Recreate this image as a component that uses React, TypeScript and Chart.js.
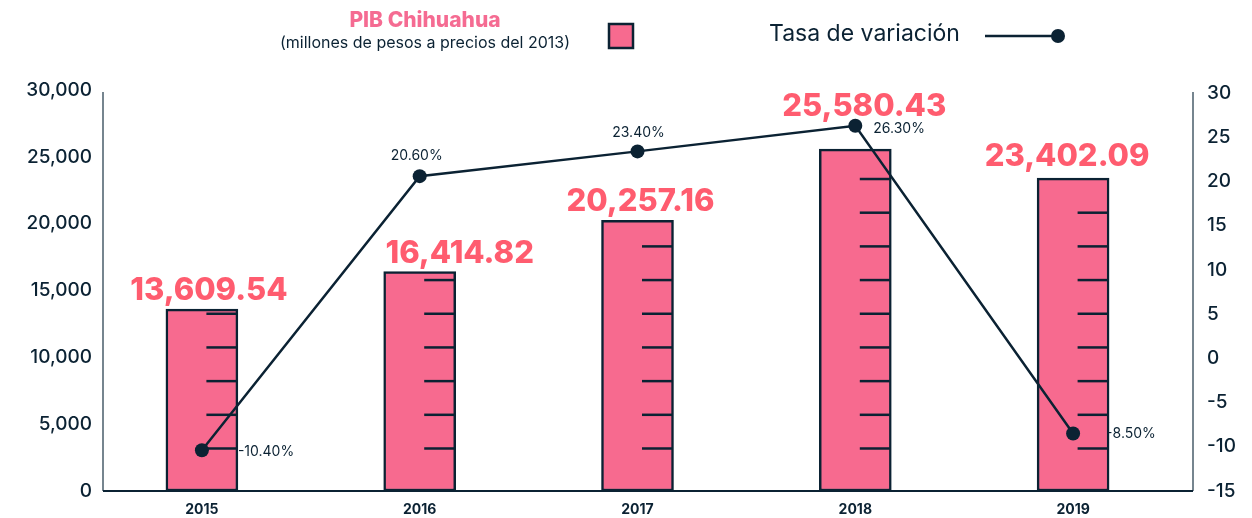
import React, { useEffect, useRef } from 'react';
import { Chart, registerables } from 'chart.js';

Chart.register(...registerables);

// ---- data ----
const YEARS = ['2015', '2016', '2017', '2018', '2019'];
const PIB = [13609.54, 16414.82, 20257.16, 25580.43, 23402.09];
const TASA = [-10.4, 20.6, 23.4, 26.3, -8.5];
const LEFT_TICKS = [0, 5000, 10000, 15000, 20000, 25000, 30000];
const RIGHT_TICKS = [-15, -10, -5, 0, 5, 10, 15, 20, 25, 30];

// ---- style ----
const PINK = '#F76A8F';
const LABEL_RED = '#FF5C6F';
const NAVY = '#0B2233';
const AXIS_GRAY = '#4A5D6B';
const FONT = 'Inter, "Open Sans", sans-serif';

// decorative thermometer marks inside bars (value units of the left axis)
const THERMO_START = 3180;
const THERMO_STEP = 2520;

// label nudges (px): bar value labels and rate labels
const BAR_LABEL_NUDGE: [number, number][] = [[7, 0], [40, 0], [3, 0], [9, -24], [-6, -3]];
const RATE_LABEL_POS: [number, number, CanvasTextAlign][] = [
  [36, 1, 'left'],
  [-3, -20, 'center'],
  [1, -19, 'center'],
  [18, 3, 'left'],
  [33, 0, 'left'],
];

const fmtPib = (v: number) =>
  v.toLocaleString('en-US', { minimumFractionDigits: 2, maximumFractionDigits: 2 });
const fmtRate = (v: number) => v.toFixed(2) + '%';

const decorPlugin = {
  id: 'decor',
  beforeDatasetsDraw(chart: any) {
    const { ctx, chartArea } = chart;
    const l = chartArea.left + 10;
    const r = chartArea.right + 11;
    ctx.save();
    ctx.lineWidth = 1.5;
    ctx.strokeStyle = AXIS_GRAY;
    ctx.beginPath();
    ctx.moveTo(l, chartArea.top + 2);
    ctx.lineTo(l, chartArea.bottom);
    ctx.moveTo(r, chartArea.top + 2);
    ctx.lineTo(r, chartArea.bottom);
    ctx.stroke();
    ctx.lineWidth = 2;
    ctx.strokeStyle = NAVY;
    ctx.beginPath();
    ctx.moveTo(l, chartArea.bottom);
    ctx.lineTo(r, chartArea.bottom);
    ctx.stroke();
    ctx.restore();
  },
  afterDatasetDraw(chart: any, args: any) {
    if (args.index !== 0) return;
    const { ctx } = chart;
    const meta = chart.getDatasetMeta(0);
    const ys = chart.scales.y;
    ctx.save();
    ctx.strokeStyle = NAVY;
    ctx.lineWidth = 2.5;
    meta.data.forEach((bar: any, i: number) => {
      const right = bar.x + bar.width / 2 - 1.5;
      for (let v = THERMO_START; v < PIB[i] - 300; v += THERMO_STEP) {
        const yy = ys.getPixelForValue(v);
        ctx.beginPath();
        ctx.moveTo(right - 30, yy);
        ctx.lineTo(right, yy);
        ctx.stroke();
      }
    });
    ctx.restore();
  },
  afterDatasetsDraw(chart: any) {
    const { ctx } = chart;
    ctx.save();
    // bar value labels
    const bars = chart.getDatasetMeta(0).data;
    ctx.fillStyle = LABEL_RED;
    ctx.font = `800 31px ${FONT}`;
    ctx.textAlign = 'center';
    ctx.textBaseline = 'alphabetic';
    bars.forEach((bar: any, i: number) => {
      const [dx, dy] = BAR_LABEL_NUDGE[i];
      ctx.fillText(fmtPib(PIB[i]), bar.x + dx, bar.y - 9 + dy);
    });
    // rate labels
    const pts = chart.getDatasetMeta(1).data;
    ctx.fillStyle = NAVY;
    ctx.font = `400 14px ${FONT}`;
    ctx.textBaseline = 'middle';
    pts.forEach((p: any, i: number) => {
      const [dx, dy, align] = RATE_LABEL_POS[i];
      ctx.textAlign = align;
      ctx.fillText(fmtRate(TASA[i]), p.x + dx, p.y + dy);
    });

    // legend
    ctx.textAlign = 'center';
    ctx.textBaseline = 'middle';
    ctx.fillStyle = '#F56B92';
    ctx.font = `800 21px ${FONT}`;
    ctx.fillText('PIB Chihuahua', 425, 21);
    ctx.fillStyle = NAVY;
    ctx.font = `400 16px ${FONT}`;
    ctx.fillText('(millones de pesos a precios del 2013)', 425, 43);
    ctx.fillStyle = PINK;
    ctx.fillRect(609, 24, 24, 24);
    ctx.strokeStyle = NAVY;
    ctx.lineWidth = 2.5;
    ctx.strokeRect(609, 24, 24, 24);

    ctx.textAlign = 'left';
    ctx.fillStyle = NAVY;
    ctx.font = `400 23px ${FONT}`;
    ctx.fillText('Tasa de variación', 769, 34);
    ctx.lineWidth = 2.5;
    ctx.beginPath();
    ctx.moveTo(985, 36);
    ctx.lineTo(1058, 36);
    ctx.stroke();
    ctx.beginPath();
    ctx.arc(1058, 36, 7, 0, Math.PI * 2);
    ctx.fill();
    ctx.restore();
  },
};

export default function App() {
  const ref = useRef<HTMLCanvasElement | null>(null);

  useEffect(() => {
    if (!ref.current) return;
    const chart = new Chart(ref.current, {
      type: 'bar',
      data: {
        labels: YEARS,
        datasets: [
          {
            type: 'bar',
            label: 'PIB Chihuahua',
            data: PIB,
            yAxisID: 'y',
            backgroundColor: PINK,
            borderColor: NAVY,
            borderWidth: 2.5,
            borderSkipped: false,
            barThickness: 72,
            order: 2,
          } as any,
          {
            type: 'line',
            label: 'Tasa de variación',
            data: TASA,
            yAxisID: 'y1',
            borderColor: NAVY,
            borderWidth: 2.5,
            pointRadius: 7,
            pointBackgroundColor: NAVY,
            pointBorderColor: NAVY,
            pointBorderWidth: 0,
            tension: 0,
            order: 1,
          } as any,
        ],
      },
      options: {
        responsive: false,
        animation: false,
        layout: { padding: { top: 90, left: 0, right: 0, bottom: 0 } },
        plugins: { legend: { display: false }, tooltip: { enabled: false } },
        scales: {
          x: {
            grid: { display: false, drawTicks: false },
            border: { display: false },
            ticks: { color: NAVY, font: { family: FONT, size: 14, weight: 'bold' }, padding: 10 },
            afterFit: (s: any) => {
              s.height = 27;
              s.paddingLeft = 0;
              s.paddingRight = 0;
            },
          },
          y: {
            position: 'left',
            min: 0,
            max: 30000,
            afterBuildTicks: (s: any) => {
              s.ticks = LEFT_TICKS.map((v) => ({ value: v }));
            },
            ticks: {
              color: NAVY,
              padding: 1,
              font: { family: FONT, size: 19, weight: 500 },
              callback: (v: any) => Number(v).toLocaleString('en-US'),
            },
            grid: { display: false, drawTicks: false },
            border: { display: false },
            afterFit: (s: any) => {
              s.width = 93;
              s.paddingTop = 0;
              s.paddingBottom = 0;
            },
          },
          y1: {
            position: 'right',
            min: -15,
            max: 30.34,
            afterBuildTicks: (s: any) => {
              s.ticks = RIGHT_TICKS.map((v) => ({ value: v }));
            },
            ticks: {
              color: NAVY,
              padding: 25,
              font: { family: FONT, size: 19, weight: 500 },
              callback: (v: any) => String(v),
            },
            grid: { display: false, drawTicks: false },
            border: { display: false },
            afterFit: (s: any) => {
              s.width = 70;
              s.paddingTop = 0;
              s.paddingBottom = 0;
            },
          },
        },
      },
      plugins: [decorPlugin],
    } as any);
    return () => chart.destroy();
  }, []);

  return (
    <div style={{ position: 'fixed', left: 0, top: 0, width: 1252, height: 518, background: '#fff' }}>
      <canvas ref={ref} width={1252} height={518} style={{ display: 'block' }} />
    </div>
  );
}
